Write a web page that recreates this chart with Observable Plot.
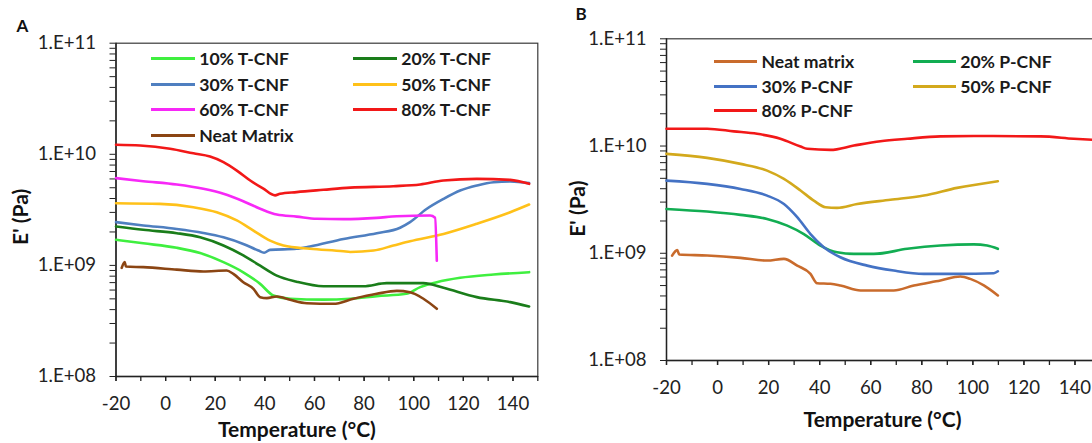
<!DOCTYPE html>
<html><head><meta charset="utf-8">
<script src="https://cdn.jsdelivr.net/npm/d3@7"></script>
<script src="https://cdn.jsdelivr.net/npm/@observablehq/plot@0.6"></script>
<style>
body{margin:0;background:#fff;font-family:Lato,"Open Sans",sans-serif;}
#root{position:relative;width:1092px;height:443px;overflow:hidden;background:#fff;}
.panel{position:absolute;top:0;width:600px;height:443px;}
.panel svg{max-width:none !important;}
.item{position:absolute;display:flex;align-items:center;height:20px;font-weight:bold;font-size:17.6px;color:#1a1a1a;white-space:nowrap;}
.item .sw{display:inline-block;height:3px;margin-right:4.5px;}
</style></head><body><div id="root"></div>
<script>
// ---------- Panel A data (T-CNF) ----------
const A10_T = [-20,-9,4.5,13.9,23.3,31.3,38.1,43.4,50.2,63.6,74.4,85.1,96.9,102.6,109.3,118.7,132.2,146.5];
const A10_E = [1.70e9,1.58e9,1.44e9,1.29e9,1.07e9,8.67e8,6.82e8,5.36e8,5.01e8,4.92e8,5.01e8,5.28e8,5.55e8,6.37e8,7.06e8,7.73e8,8.28e8,8.69e8];
const A20_T = [-20,-9,4.5,13.9,23.3,31.3,38.1,44.8,52.8,63.6,79.7,89.1,103.9,112,125.4,138.9,146.5];
const A20_E = [2.24e9,2.09e9,1.95e9,1.79e9,1.51e9,1.23e9,9.95e8,8.09e8,7.14e8,6.5e8,6.5e8,6.92e8,6.92e8,6.28e8,5.18e8,4.67e8,4.27e8];
const A30_T = [-20,-9,4.5,15.2,23.3,31.3,37.4,39.7,42.1,52.8,58.2,71.7,85.1,94.5,98.5,105,112,118.7,125.4,132.2,138.9,146.5];
const A30_E = [2.45e9,2.29e9,2.13e9,1.96e9,1.79e9,1.56e9,1.36e9,1.30e9,1.38e9,1.41e9,1.48e9,1.73e9,1.95e9,2.18e9,2.45e9,3.2e9,3.97e9,4.72e9,5.24e9,5.61e9,5.69e9,5.5e9];
const A50_T = [-20,-2.3,11.2,20.6,28.7,35.4,42.1,47.5,58.2,71.7,74.4,83.8,91.8,98.5,112,125.4,138.9,146.5];
const A50_E = [3.63e9,3.58e9,3.34e9,3.01e9,2.54e9,2.06e9,1.67e9,1.51e9,1.41e9,1.34e9,1.32e9,1.36e9,1.51e9,1.65e9,1.92e9,2.37e9,3.01e9,3.53e9];
const A60_T = [-20,-9,4.5,15.2,23.3,31.3,38.1,44.8,52.8,60.9,71.7,85.1,93.2,106.6,108.6,109.3];
const A60_E = [6.1e9,5.73e9,5.35e9,4.89e9,4.41e9,3.78e9,3.24e9,2.87e9,2.75e9,2.63e9,2.61e9,2.68e9,2.77e9,2.81e9,2.69e9,1.1e9];
const A80_T = [-20,-10.3,1.8,11.2,17.9,23.3,28.7,34.1,39.4,44.1,46.1,52.8,63.6,74.4,91.8,102.6,112,125.4,138.9,146.5];
const A80_E = [1.22e10,1.2e10,1.12e10,1.02e10,9.55e9,8.51e9,7.14e9,5.81e9,4.9e9,4.27e9,4.41e9,4.57e9,4.79e9,5.01e9,5.16e9,5.35e9,5.81e9,6.01e9,5.89e9,5.42e9];
const ANeat_T = [-17.7,-16.5,-16,-9,4.5,15.2,24.6,27.3,31.3,35.4,38.1,40.8,44.8,50.2,56.9,67.6,75.7,85.1,93.2,98.5,103.9,109.3];
const ANeat_E = [9.5e8,1.07e9,9.77e8,9.64e8,9.16e8,8.81e8,8.99e8,8.39e8,7.06e8,6.15e8,5.18e8,5.07e8,5.25e8,4.9e8,4.57e8,4.51e8,5.01e8,5.55e8,5.9e8,5.74e8,5.01e8,4.07e8];

// ---------- Panel B data (P-CNF) ----------
const BNeat_T = [-17.8,-15.8,-15,-4.1,9,19.4,26,31.2,36.4,39,44.2,48.1,56,69,76.9,87.3,95.1,99,104.3,109.8];
const BNeat_E = [9.5e8,1.07e9,9.73e8,9.53e8,9.06e8,8.55e8,8.87e8,7.67e8,6.43e8,5.26e8,5.19e8,5.01e8,4.5e8,4.5e8,5.01e8,5.57e8,6.07e8,5.77e8,5.01e8,4.04e8];
const B20_T = [-20,-4.1,9,19.4,27.3,33.8,40.3,46.8,53.4,61.2,74.3,87.3,100.4,105.6,109.8];
const B20_E = [2.59e9,2.45e9,2.28e9,2.09e9,1.81e9,1.51e9,1.18e9,1.02e9,9.86e8,9.86e8,1.1e9,1.18e9,1.21e9,1.18e9,1.1e9];
const B30_T = [-20,-4.1,9,19.4,26,31.2,36.4,41.6,48.1,58.6,69,80.8,93.8,108.2,109.8];
const B30_E = [4.76e9,4.44e9,3.98e9,3.45e9,2.88e9,2.17e9,1.51e9,1.14e9,9.18e8,7.67e8,6.9e8,6.43e8,6.43e8,6.52e8,6.79e8];
const B50_T = [-20,-4.1,9,19.4,26,32.5,37.7,42.3,46.8,54.7,67.7,80.8,93.8,109.8];
const B50_E = [8.45e9,7.76e9,6.82e9,5.9e9,4.94e9,3.85e9,3.1e9,2.69e9,2.65e9,2.88e9,3.15e9,3.45e9,4.07e9,4.7e9];
const B80_T = [-20,-4.1,6.4,15.5,24.6,32.5,35.1,44.2,53.4,63.8,74.3,87.3,100.4,126.5,139.5,148];
const B80_E = [1.45e10,1.45e10,1.37e10,1.3e10,1.17e10,9.89e9,9.42e9,9.2e9,1.01e10,1.11e10,1.17e10,1.23e10,1.24e10,1.23e10,1.17e10,1.14e10];

// ---------- names / colours / ticks ----------
const namesA = ["10% T-CNF","20% T-CNF","30% T-CNF","50% T-CNF","60% T-CNF","80% T-CNF","Neat Matrix"];
const colorsA = ["#3fef3f","#1a7d1a","#4f7fc0","#ffc119","#f728f7","#f21818","#8b4513"];
const namesB = ["Neat matrix","20% P-CNF","30% P-CNF","50% P-CNF","80% P-CNF"];
const colorsB = ["#c96b2c","#12ad52","#4472c4","#d3a91c","#f21818"];
const xLabelTicks = [-20,0,20,40,60,80,100,120,140];
const xMinorTicks = [-20,-10,0,10,20,30,40,50,60,70,80,90,100,110,120,130,140,150];
const yMajorTicks = [1e8,1e9,1e10,1e11];
const yTickLabels = ["1.E+08","1.E+09","1.E+10","1.E+11"];
const yMinorTicks = [2,3,4,5,6,7,8,9].flatMap(m => [1e8,1e9,1e10].map(d => m*d));
const xTitle = "Temperature (°C)";
const yTitle = "E' (Pa)";

const seriesA = [[A10_T,A10_E],[A20_T,A20_E],[A30_T,A30_E],[A50_T,A50_E],[A60_T,A60_E],[A80_T,A80_E],[ANeat_T,ANeat_E]];
const seriesB = [[BNeat_T,BNeat_E],[B20_T,B20_E],[B30_T,B30_E],[B50_T,B50_E],[B80_T,B80_E]];

function rowsOf(names, series){
  return series.flatMap(([T,E],k) => T.map((t,i) => ({name:names[k], T:t, E:E[i]})));
}

function makePanel(o){
  const rows = rowsOf(o.names, o.series);
  return Plot.plot({
    width:o.width, height:443,
    marginLeft:o.ml, marginRight:o.mr, marginTop:o.mt, marginBottom:o.mb,
    style:{fontFamily:"Lato, 'Open Sans', sans-serif", fontSize:"18.6px", color:"#222", background:"transparent", overflow:"visible", maxWidth:"none"},
    x:{domain:[-20,150]},
    y:{type:"log", domain:[1e8,1e11]},
    color:{domain:o.names, range:o.colors},
    marks:[
      Plot.frame({stroke:"#3a3a3a", strokeWidth:1.2}),
      Plot.axisX({ticks:xMinorTicks, tickSize:5, tickFormat:()=>"", label:null, stroke:"#222", strokeWidth:1.3}),
      Plot.axisX({ticks:xLabelTicks, tickSize:5, tickPadding:15, tickFormat:d=>String(d), label:null, stroke:"#222", strokeWidth:1.3}),
      Plot.axisY({ticks:yMinorTicks, tickSize:6, tickFormat:()=>"", label:null, stroke:"#222"}),
      Plot.axisY({ticks:yMajorTicks, tickSize:6, tickPadding:14, tickFormat:(d)=>yTickLabels[yMajorTicks.indexOf(d)], label:null, stroke:"#222"}),
      Plot.ruleX([-20], {stroke:"#222", strokeWidth:1.4}),
      Plot.ruleY([1e8], {stroke:"#222", strokeWidth:1.4}),
      Plot.line(rows, {x:"T", y:"E", z:"name", stroke:"name", strokeWidth:2.6, curve:"monotone-x"}),
      Plot.text([xTitle], {frameAnchor:"bottom", textAnchor:"middle", lineAnchor:"middle", dx:o.xtdx, dy:o.xtdy, fontWeight:"bold", fontSize:21, fill:"#111"}),
      Plot.text([yTitle], {frameAnchor:"left", textAnchor:"middle", lineAnchor:"middle", rotate:-90, dx:o.ytdx, dy:o.ytdy, fontWeight:"bold", fontSize:21, fill:"#111"}),
      Plot.text([o.letter], {frameAnchor:"top-left", textAnchor:"start", lineAnchor:"middle", dx:o.ldx, dy:o.ldy, fontWeight:"bold", fontSize:17, fill:"#111"})
    ]
  });
}

const root = document.getElementById("root");

function addPanel(left, o, legend){
  const div = document.createElement("div");
  div.className = "panel";
  div.style.left = left + "px";
  div.appendChild(makePanel(o));
  legend.forEach(it => {
    const el = document.createElement("div");
    el.className = "item";
    el.style.left = it.x + "px";
    el.style.top = (it.y - 10) + "px";
    const sw = document.createElement("span");
    sw.className = "sw";
    sw.style.width = it.w + "px";
    sw.style.background = it.color;
    el.appendChild(sw);
    el.appendChild(document.createTextNode(it.name));
    div.appendChild(el);
  });
  root.appendChild(div);
}

// legends: 2 columns
const legA = namesA.map((n,i) => ({name:n, color:colorsA[i], w:44,
  x: 150.7 + (i % 2) * 202, y: 58.7 + Math.floor(i/2) * 25.6}));
const legB = namesB.map((n,i) => ({name:n, color:colorsB[i], w:43,
  x: 169 + (i % 2) * 198.7, y: 61.7 + Math.floor(i/2) * 24.5}));

addPanel(0, {names:namesA, colors:colorsA, series:seriesA, width:545, ml:115.5, mr:7.7, mt:42.7, mb:67,
  xtdx:-30, xtdy:54, ytdx:-95, ytdy:7, letter:"A", ldx:-99.5, ldy:-16.5}, legA);
addPanel(545, {names:namesB, colors:colorsB, series:seriesB, width:565, ml:121, mr:10, mt:38.3, mb:83,
  xtdx:-1, xtdy:60, ytdx:-88, ytdy:9, letter:"B", ldx:-91, ldy:-24}, legB);
</script></body></html>
